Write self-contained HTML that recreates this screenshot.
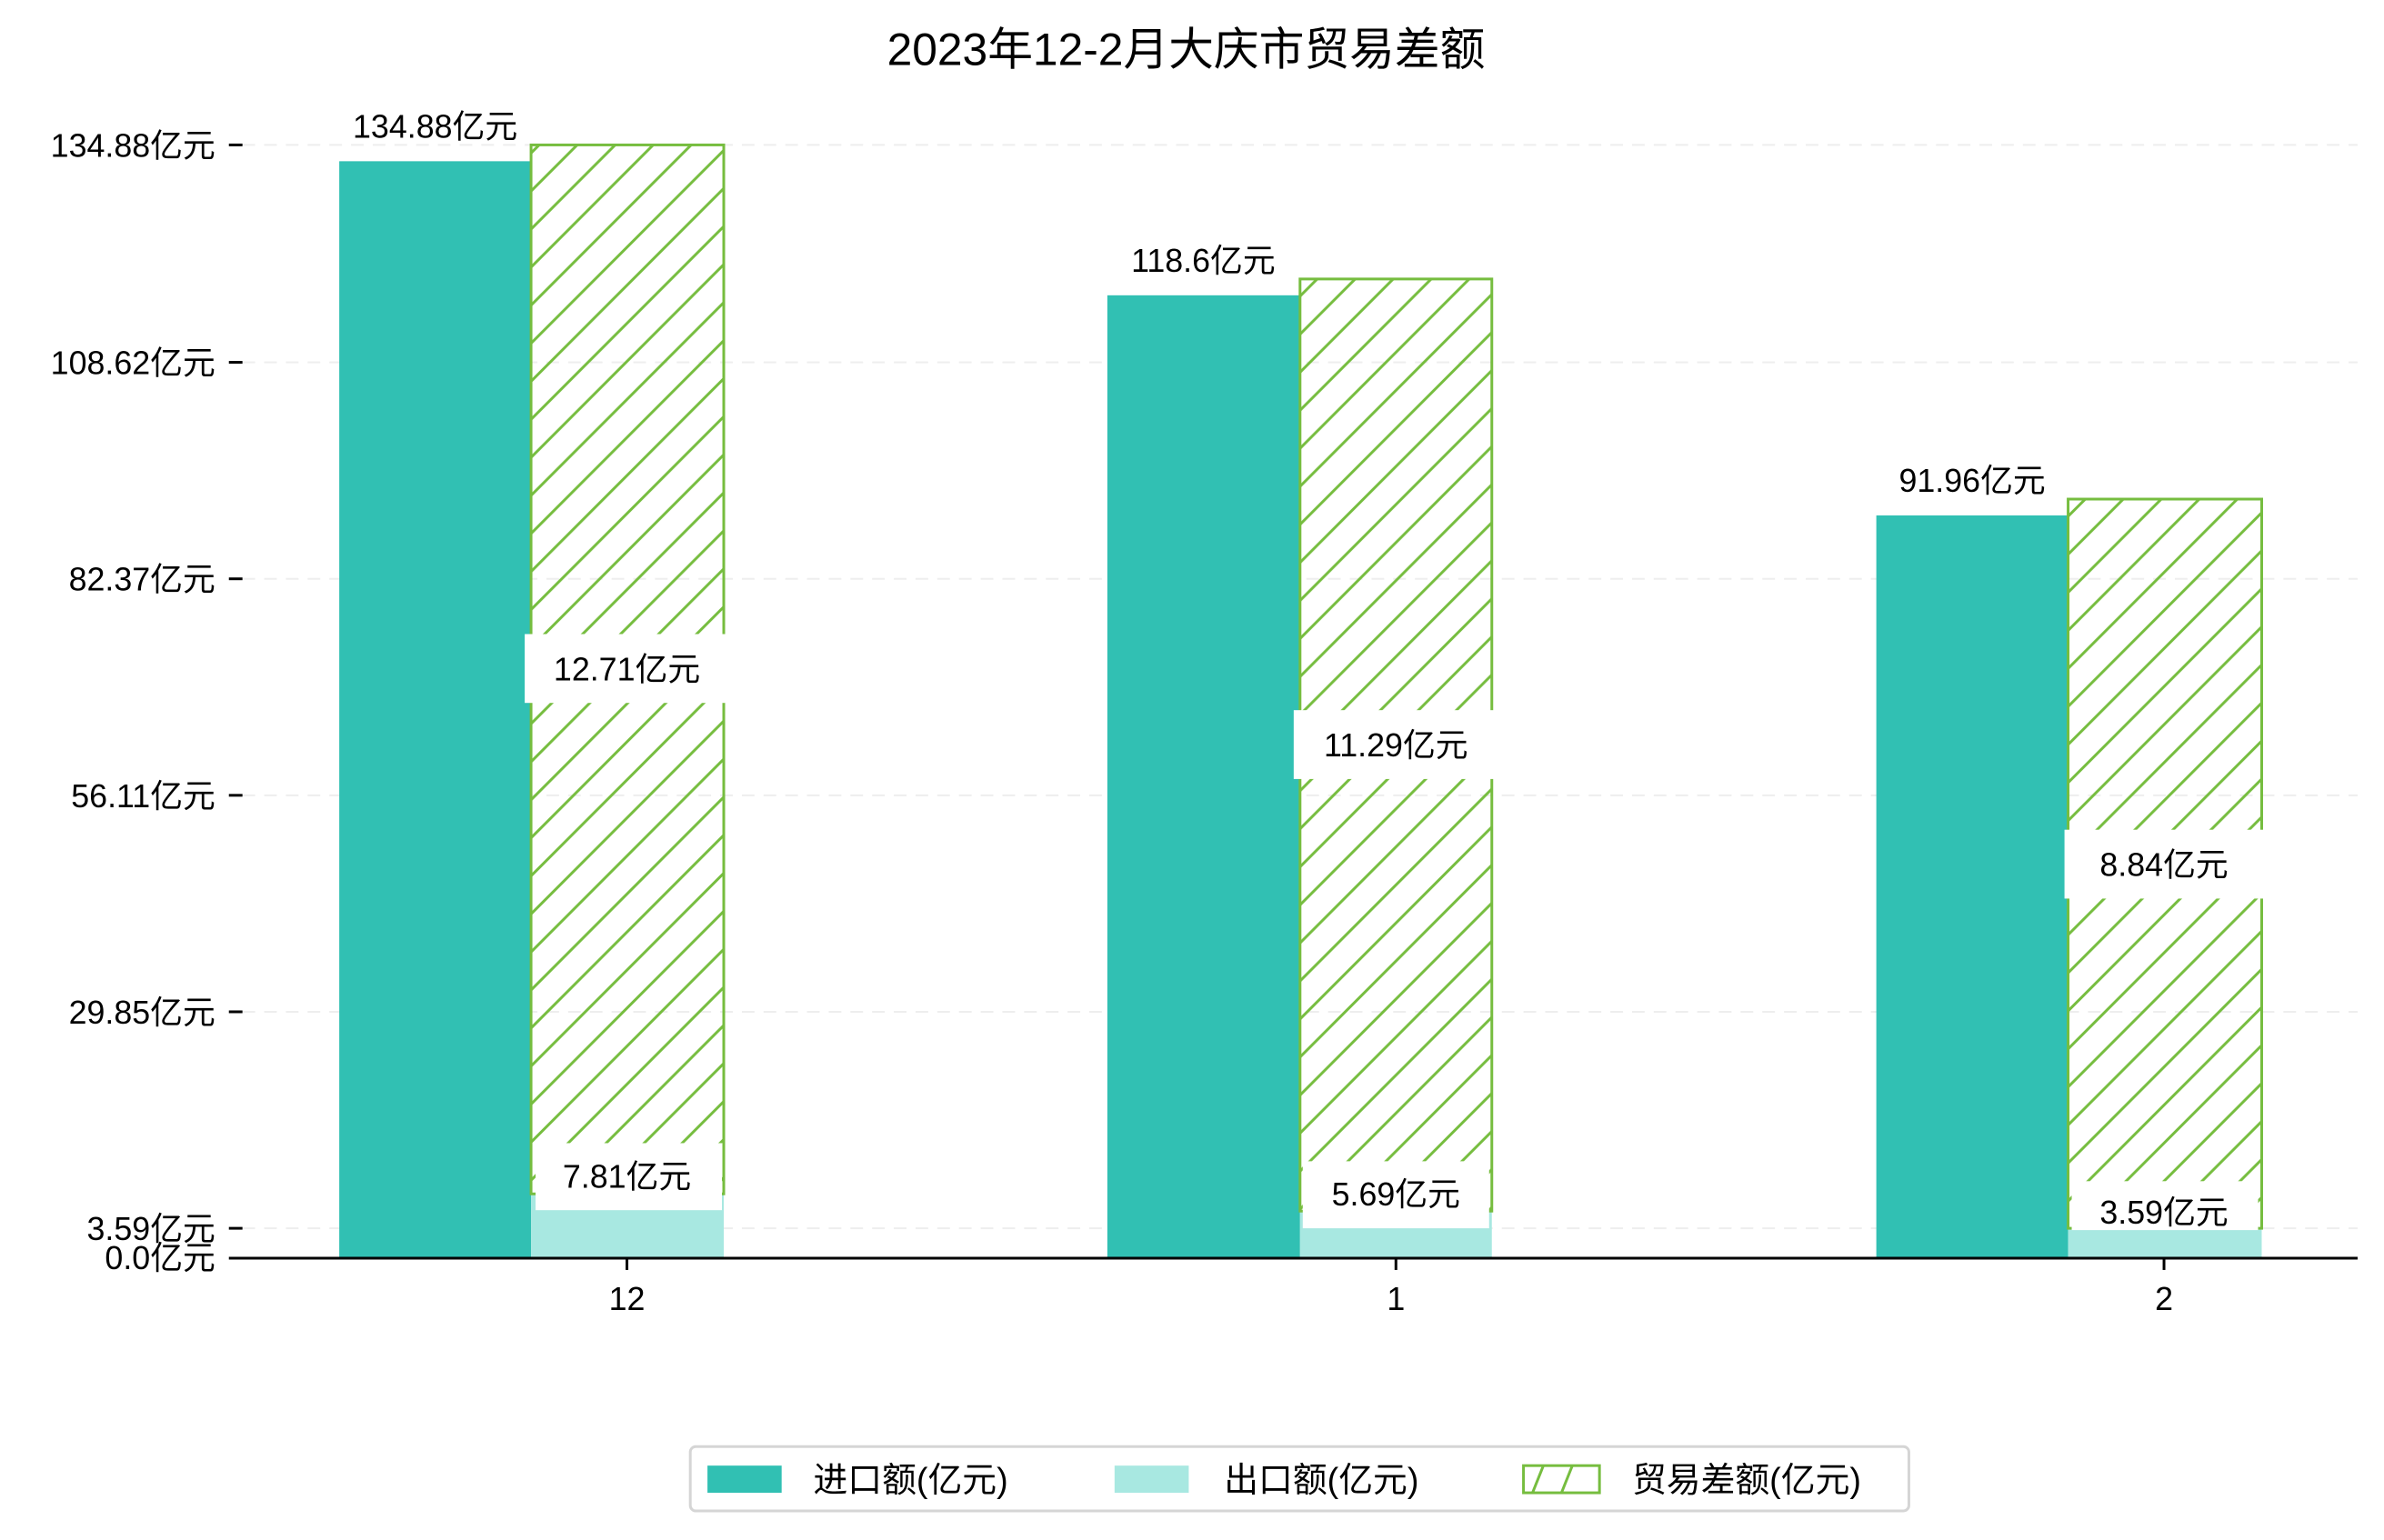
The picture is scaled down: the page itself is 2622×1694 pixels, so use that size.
<!DOCTYPE html>
<html><head><meta charset="utf-8"><style>
html,body{margin:0;padding:0;background:#fff}
svg text{font-family:"Liberation Sans","Noto Sans CJK SC",sans-serif;fill:#000}
</style></head><body>
<svg width="2622" height="1689" xmlns="http://www.w3.org/2000/svg">
<defs>
<pattern id="h" patternUnits="userSpaceOnUse" width="42" height="42">
<path d="M-10,10 L10,-10 M0,42 L42,0 M32,52 L52,32" stroke="#76bd3f" stroke-width="3"/>
</pattern>
</defs>
<rect width="2622" height="1689" fill="#fff"/>
<g transform="scale(0.995,0.9964)">
<text x="1311" y="72" font-size="50" text-anchor="middle">2023年12-2月大庆市贸易差额</text>
<g stroke="#eee" stroke-width="2" stroke-dasharray="14,10">
<line x1="268" y1="160" x2="2606" y2="160"/><line x1="268" y1="400" x2="2606" y2="400"/>
<line x1="268" y1="639" x2="2606" y2="639"/><line x1="268" y1="878" x2="2606" y2="878"/>
<line x1="268" y1="1117" x2="2606" y2="1117"/><line x1="268" y1="1356" x2="2606" y2="1356"/>
</g>
<g stroke="#000" stroke-width="3">
<line x1="253" y1="160" x2="268" y2="160"/><line x1="253" y1="400" x2="268" y2="400"/>
<line x1="253" y1="639" x2="268" y2="639"/><line x1="253" y1="878" x2="268" y2="878"/>
<line x1="253" y1="1117" x2="268" y2="1117"/><line x1="253" y1="1356" x2="268" y2="1356"/>
<line x1="253" y1="1389" x2="268" y2="1389"/>
</g>
<g font-size="36" text-anchor="end">
<text x="238" y="173">134.88亿元</text><text x="238" y="413">108.62亿元</text>
<text x="238" y="652">82.37亿元</text><text x="238" y="891">56.11亿元</text>
<text x="238" y="1130">29.85亿元</text><text x="238" y="1369">3.59亿元</text>
<text x="238" y="1401">0.0亿元</text>
</g>
<rect x="375" y="178" width="212" height="1211" fill="#31c0b3"/>
<rect x="587" y="1318" width="213" height="71" fill="#a8e8e1"/>
<rect x="587" y="160" width="213" height="1158" fill="url(#h)" stroke="#76bd3f" stroke-width="3"/>
<rect x="1224" y="326" width="213" height="1063" fill="#31c0b3"/>
<rect x="1437" y="1337" width="212" height="52" fill="#a8e8e1"/>
<rect x="1437" y="308" width="212" height="1029" fill="url(#h)" stroke="#76bd3f" stroke-width="3"/>
<rect x="2074" y="569" width="212" height="820" fill="#31c0b3"/>
<rect x="2286" y="1356" width="214" height="33" fill="#a8e8e1"/>
<rect x="2286" y="551" width="214" height="805" fill="url(#h)" stroke="#76bd3f" stroke-width="3"/>
<line x1="255" y1="1389" x2="2606" y2="1389" stroke="#000" stroke-width="3"/>
<g stroke="#000" stroke-width="3">
<line x1="693" y1="1389" x2="693" y2="1402"/><line x1="1543" y1="1389" x2="1543" y2="1402"/><line x1="2392" y1="1389" x2="2392" y2="1402"/>
</g>
<g font-size="36" text-anchor="middle">
<text x="693" y="1446">12</text><text x="1543" y="1446">1</text><text x="2392" y="1446">2</text>
<text x="481" y="152">134.88亿元</text><text x="1330" y="300">118.6亿元</text><text x="2180" y="543">91.96亿元</text>
</g>
<g fill="#fff">
<rect x="580" y="700" width="226" height="76"/><rect x="1430" y="784" width="226" height="76"/>
<rect x="2282" y="916" width="222" height="76"/>
<rect x="592" y="1262" width="206" height="74"/><rect x="1440" y="1282" width="206" height="74"/>
<rect x="2290" y="1304" width="206" height="54"/>
</g>
<g font-size="36" text-anchor="middle">
<text x="693" y="751">12.71亿元</text><text x="1543" y="835">11.29亿元</text><text x="2392" y="967">8.84亿元</text>
<text x="693" y="1311">7.81亿元</text><text x="1543" y="1331">5.69亿元</text><text x="2392" y="1351">3.59亿元</text>
</g>
<rect x="763" y="1597" width="1347" height="71" rx="6" fill="#fff" stroke="#d5d5d5" stroke-width="3"/>
<rect x="782" y="1618" width="82" height="30" fill="#31c0b3"/>
<rect x="1232" y="1618" width="82" height="30" fill="#a8e8e1"/>
<rect x="1684" y="1618" width="84" height="30" fill="#fff" stroke="#76bd3f" stroke-width="3"/>
<path d="M1694,1648 L1706,1618 M1726,1648 L1738,1618" stroke="#76bd3f" stroke-width="3"/>
<g font-size="38">
<text x="899" y="1647">进口额(亿元)</text><text x="1353" y="1647">出口额(亿元)</text><text x="1804" y="1647">贸易差额(亿元)</text>
</g>
</g>
</svg>
</body></html>
